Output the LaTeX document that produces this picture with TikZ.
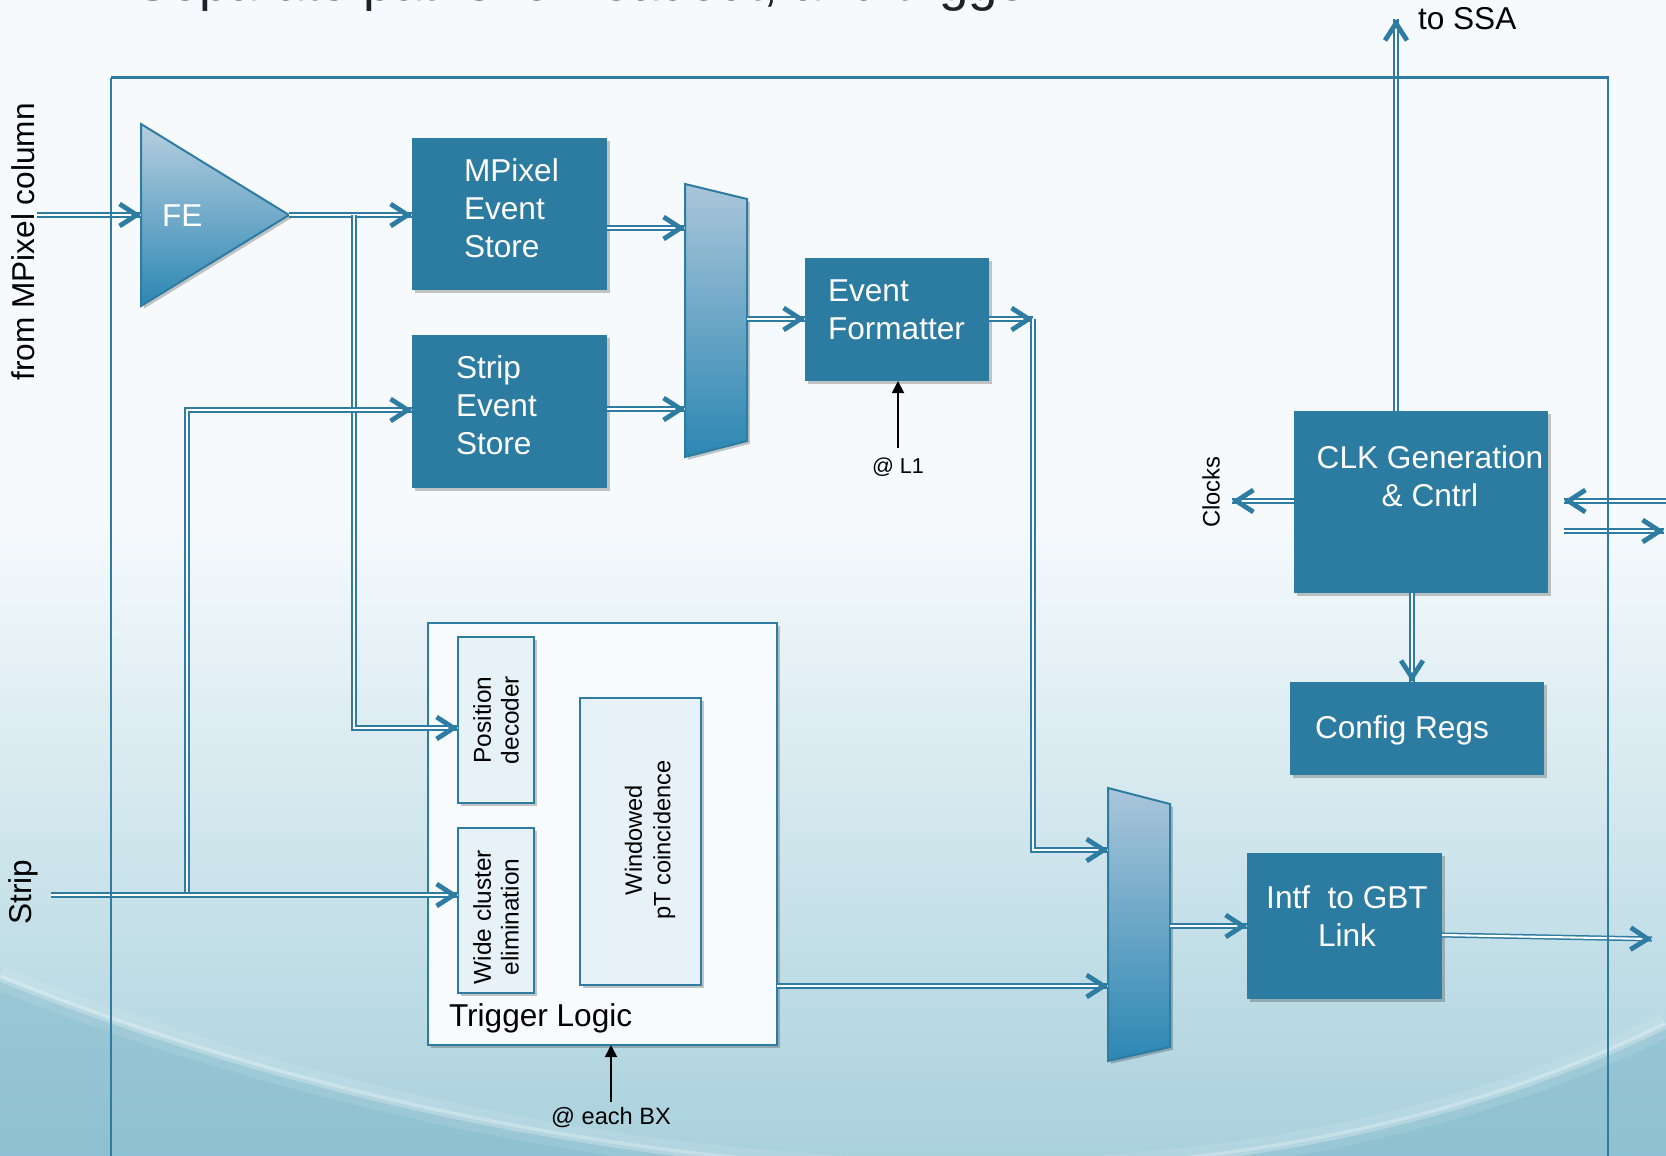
\documentclass[tikz,border=0pt]{standalone}
\usepackage{fontspec}
\setmainfont{Liberation Sans}
\usetikzlibrary{arrows.meta,shadows,calc,decorations.markings}

\definecolor{boxc}{HTML}{2C7BA0}
\definecolor{linec}{HTML}{2E7CA2}
\definecolor{bgtop}{HTML}{F6FAFC}
\definecolor{bgbot}{HTML}{A9D1DD}
\definecolor{bgdark}{HTML}{6FAEC3}
\definecolor{muxtop}{HTML}{AAC6DA}
\definecolor{muxbot}{HTML}{2C87B3}
\definecolor{trigfill}{HTML}{F8FBFD}
\definecolor{subfill}{HTML}{E6F2F7}
\definecolor{titlec}{HTML}{1C2328}

\begin{document}
\begin{tikzpicture}[x=0.5pt,y=-0.5pt,
  big/.style={font=\fontsize{15.8}{19}\selectfont},
  small/.style={font=\fontsize{12.2}{13.8}\selectfont},
  lbl/.style={inner sep=0pt, outer sep=0pt},
  % bus: two thin strokes with a light gap, ending in a heavy open barb
  conn/.style={draw=linec, line width=0.75pt, double=white, double distance=1.05pt,
    postaction={decorate, decoration={markings, mark=at position 1 with
      {\pgfsetinnerlinewidth{0pt}\arrow[linec, line width=2.4pt, line cap=round, line join=round]
        {Straight Barb[length=8.5pt,width=11pt]}}}}},
  sig/.style={draw=black, line width=0.9pt, -{Triangle[length=6pt,width=6pt]}},
  shdw/.style={drop shadow={shadow xshift=1.4pt, shadow yshift=-1.4pt, opacity=0.22, fill=black}},
  bluebox/.style={rectangle, fill=boxc, draw=none, inner sep=0pt, outer sep=0pt, shdw},
  subbox/.style={rectangle, fill=subfill, draw=linec, line width=1pt, inner sep=0pt, outer sep=0pt, shdw},
  muxshape/.style={draw=linec, line width=1pt, top color=muxtop, bottom color=muxbot, shdw},
]
\useasboundingbox (0,0) rectangle (1666,1156);
\begin{scope}
\clip (0,0) rectangle (1666,1156);

% ---- background ----
\fill[bgtop] (0,0) rectangle (1666,1156);
\shade[top color=bgtop, bottom color=bgbot] (0,520) rectangle (1666,1157);
\fill[bgdark, opacity=0.45] (0,978) .. controls (450,1160) and (1150,1280) .. (1666,1025)
  -- (1666,1160) -- (0,1160) -- cycle;
\draw[white, opacity=0.10, line width=12pt] (0,978) .. controls (450,1160) and (1150,1280) .. (1666,1025);
\draw[white, opacity=0.25, line width=3.5pt] (0,978) .. controls (450,1160) and (1150,1280) .. (1666,1025);

% ---- slide title (runs off the top edge) ----
\node[lbl, anchor=base west, text=titlec, font=\fontsize{26.4}{30}\selectfont] (title) at (135,1)
  {Separate paths for readout, and trigger};

% ---- front end ----
\path[draw=linec, line width=1pt, top color=muxtop!85!white, bottom color=muxbot, shdw]
  (141,124) -- (289,215) -- (141,306) -- cycle;
\coordinate (fein) at (141,215);
\coordinate (feout) at (289,215);
\node[lbl, big, text=white, anchor=west] (feT) at (162,216) {FE};

% ---- event stores, formatter, link, control ----
\node[bluebox, minimum width=97.5pt, minimum height=76pt] (mpix) at (509.5,214) {};
\node[bluebox, minimum width=97.5pt, minimum height=76.5pt] (ses) at (509.5,411.5) {};
\node[bluebox, minimum width=92pt, minimum height=61.5pt] (ef) at (897,319.5) {};
\node[bluebox, minimum width=97.5pt, minimum height=73pt] (intf) at (1344.5,926) {};
\node[bluebox, minimum width=127pt, minimum height=91pt] (clk) at (1421,502) {};
\node[bluebox, minimum width=127pt, minimum height=46.5pt] (cfg) at (1417,728.5) {};

% ---- multiplexers ----
\path[muxshape] (685,184) -- (747,199) -- (747,441) -- (685,457) -- cycle;
\coordinate (mA1) at (685,228);
\coordinate (mA2) at (685,409);
\coordinate (mAo) at (747,319);
\path[muxshape] (1108,788) -- (1170,804) -- (1170,1047) -- (1108,1061) -- cycle;
\coordinate (mB1) at (1108,850);
\coordinate (mB2) at (1108,986);
\coordinate (mBo) at (1170,926);

% ---- trigger logic ----
\node[rectangle, fill=trigfill, draw=linec, line width=1.2pt, inner sep=0pt, outer sep=0pt, shdw,
  minimum width=174.5pt, minimum height=211pt] (trig) at (602.5,834) {};
\node[subbox, minimum width=38pt, minimum height=83pt] (posdec) at (496,720) {};
\node[subbox, minimum width=38pt, minimum height=82.5pt] (wce) at (496,910.5) {};
\node[subbox, minimum width=60.5pt, minimum height=143.5pt] (win) at (640.5,841.5) {};

% ---- connectors ----
\coordinate (mpin) at (37,215);
\coordinate (febr) at (354,215);
\coordinate (stripin) at (51,895);
\coordinate (stbr) at (187,895);
\coordinate (efc) at (1033,319);
\coordinate (gbtout) at (1652,939);
\coordinate (ssa) at (1396,19);
\coordinate (clkout) at (1232,501);
\coordinate (extin) at (1666,501);
\coordinate (clkin) at (1564,501);
\coordinate (extsrc) at (1564,531);
\coordinate (extout) at (1664,531);
\coordinate (cfgx) at (1412,0);

\draw[conn] (mpin) -- (fein);
\draw[conn] (feout) -- (mpix.west |- feout);
\draw[conn] (febr) |- ($(posdec.west)+(0,8)$);
\draw[conn] (stbr) |- ($(ses.west)+(0,-1.5)$);
\draw[conn] (stripin) -- (wce.west |- stripin);
\draw[conn] (mpix.east |- mA1) -- (mA1);
\draw[conn] (ses.east |- mA2) -- (mA2);
\draw[conn] (mAo) -- (ef.west |- mAo);
\draw[conn] (ef.east |- efc) -- (efc);
\draw[conn] (efc) |- (mB1);
\draw[conn] (trig.east |- mB2) -- (mB2);
\draw[conn] (mBo) -- (intf.west |- mBo);
\draw[conn] ($(intf.east)+(0,9)$) -- (gbtout);
\draw[conn] (clk.north -| ssa) -- (ssa);
\draw[conn] (clk.west |- clkout) -- (clkout);
\draw[conn] (extin) -- (clkin);
\draw[conn] (extsrc) -- (extout);
\draw[conn] (clk.south -| cfgx) -- (cfg.north -| cfgx);

% ---- chip outline ----
\draw[linec, line width=1pt] (111,1170) -- (111,78);
\draw[linec, line width=1pt] (1608,78) -- (1608,1170);
\draw[linec, line width=1.5pt] (110.5,78) -- (1608.5,78);

% ---- box labels ----
\node[lbl, big, text=white, align=left, anchor=west] (mpixT) at (464,208) {MPixel\\Event\\Store};
\node[lbl, big, text=white, align=left, anchor=west] (sesT) at (456,405) {Strip\\Event\\Store};
\node[lbl, big, text=white, align=left, anchor=west] (efT) at (828,310) {Event\\Formatter};
\node[lbl, big, text=white, align=center] (intfT) at (1347,916) {Intf\ \ to GBT\\Link};
\node[lbl, big, text=white, align=center] (clkT) at (1430,476) {CLK Generation\\\& Cntrl};
\node[lbl, big, text=white] (cfgT) at (1402,730) {Config Regs};
\node[lbl, big, anchor=west] (trigT) at (449,1018) {Trigger Logic};
\node[lbl, small, align=center, rotate=90] (pdT) at (496,720) {Position\\decoder};
\node[lbl, small, align=center, rotate=90] (wceT) at (496,917) {Wide cluster\\elimination};
\node[lbl, font=\fontsize{11.8}{14.3}\selectfont, align=center, rotate=90] (winT) at (650,840) {Windowed\\pT coincidence};

% ---- outside labels ----
\node[lbl, big, rotate=90] (mpcolT) at (23,242) {from MPixel column};
\node[lbl, big, rotate=90] (stripT) at (23,892) {Strip};
\node[lbl, font=\fontsize{11.9}{14}\selectfont, rotate=90] (clocksT) at (1211,492) {Clocks};
\node[lbl, big, anchor=west] (ssaT) at (1418,19) {to SSA};

% ---- timing inputs ----
\node[lbl, font=\fontsize{10.8}{13}\selectfont] (l1) at (898,467) {@ L1};
\draw[sig, shorten <=5pt] (l1.north) -- (ef.south -| l1);
\node[lbl, font=\fontsize{11.8}{14}\selectfont] (bx) at (611,1118) {@ each BX};
\draw[sig, shorten <=3pt] (bx.north) -- (trig.south -| bx);
\end{scope}
\end{tikzpicture}
\end{document}
